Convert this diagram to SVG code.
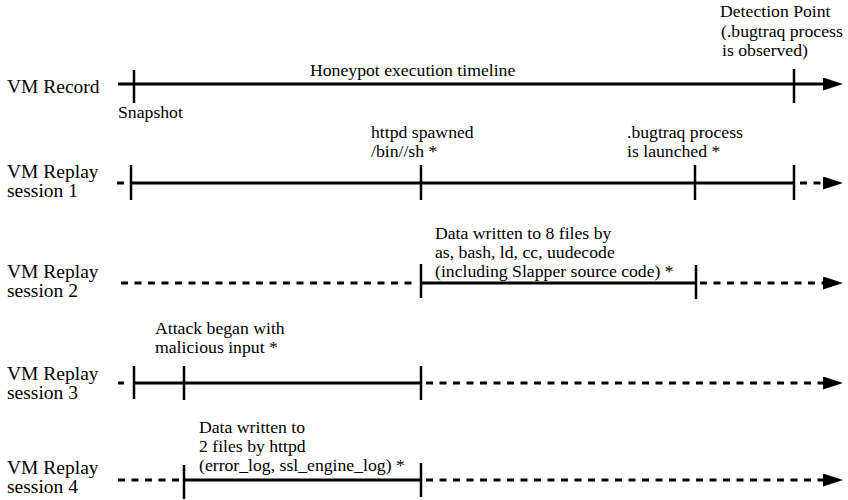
<svg xmlns="http://www.w3.org/2000/svg" width="848" height="500" viewBox="0 0 848 500">
  <style>
    text { font-family: "Liberation Serif", "Times New Roman", serif; fill: #000; }
    .lbl { font-size: 19.5px; }
    .ann { font-size: 17.7px; }
    .solid { stroke: #000; stroke-width: 3; fill: none; }
    .dash { stroke: #000; stroke-width: 3; fill: none; stroke-dasharray: 7 6.5; }
    .tick { stroke: #000; stroke-width: 2.5; }
  </style>
  <defs>
    <marker id="arrow" markerUnits="userSpaceOnUse" markerWidth="20" markerHeight="13" refX="0" refY="6.5" orient="auto">
      <path d="M0,0 L20,6.5 L0,13 z" fill="#000"/>
    </marker>
  </defs>
  <rect width="848" height="500" fill="#fff"/>

  <g id="vm-record">
    <text class="lbl" x="7" y="93">VM Record</text>
    <text class="ann" x="310" y="76">Honeypot execution timeline</text>
    <text class="ann" x="118" y="118">Snapshot</text>
    <text class="ann" x="720" y="17">Detection Point</text>
    <text class="ann" x="721" y="37">(.bugtraq process</text>
    <text class="ann" x="722" y="56">is observed)</text>
  </g>

  <g id="vm-replay-1">
    <text class="lbl" x="7" y="178">VM Replay</text>
    <text class="lbl" x="7" y="197">session 1</text>
    <text class="ann" x="371" y="138">httpd spawned</text>
    <text class="ann" x="371" y="157">/bin//sh *</text>
    <text class="ann" x="627" y="138">.bugtraq process</text>
    <text class="ann" x="627" y="157">is launched *</text>
  </g>

  <g id="vm-replay-2">
    <text class="lbl" x="7" y="278">VM Replay</text>
    <text class="lbl" x="7" y="297">session 2</text>
    <text class="ann" x="435" y="239">Data written to 8 files by</text>
    <text class="ann" x="435" y="258">as, bash, ld, cc, uudecode</text>
    <text class="ann" x="435" y="277">(including Slapper source code) *</text>
  </g>

  <g id="vm-replay-3">
    <text class="lbl" x="7" y="380">VM Replay</text>
    <text class="lbl" x="7" y="399">session 3</text>
    <text class="ann" x="155" y="334">Attack began with</text>
    <text class="ann" x="155" y="353">malicious input *</text>
  </g>

  <g id="vm-replay-4">
    <text class="lbl" x="7" y="474">VM Replay</text>
    <text class="lbl" x="7" y="493">session 4</text>
    <text class="ann" x="199" y="433">Data written to</text>
    <text class="ann" x="199" y="452">2 files by httpd</text>
    <text class="ann" x="199" y="471">(error_log,  ssl_engine_log) *</text>
  </g>

  <g id="connectors">
    <!-- VM Record -->
    <line class="solid" x1="118" y1="84" x2="823" y2="84" marker-end="url(#arrow)"/>
    <line class="tick" x1="134" y1="70" x2="134" y2="103"/>
    <line class="tick" x1="794" y1="69" x2="794" y2="103"/>

    <!-- Session 1 -->
    <line class="solid" x1="117" y1="183" x2="124" y2="183"/>
    <line class="solid" x1="131" y1="183" x2="794" y2="183"/>
    <line class="dash" x1="800" y1="183" x2="823" y2="183" marker-end="url(#arrow)"/>
    <line class="tick" x1="131" y1="165" x2="131" y2="200"/>
    <line class="tick" x1="421" y1="165" x2="421" y2="200"/>
    <line class="tick" x1="695" y1="165" x2="695" y2="200"/>
    <line class="tick" x1="794" y1="165" x2="794" y2="200"/>

    <!-- Session 2 -->
    <line class="dash" x1="121" y1="283" x2="418" y2="283"/>
    <line class="solid" x1="421" y1="283" x2="696" y2="283"/>
    <line class="dash" x1="700" y1="283" x2="823" y2="283" marker-end="url(#arrow)"/>
    <line class="tick" x1="421" y1="264" x2="421" y2="298"/>
    <line class="tick" x1="696" y1="265" x2="696" y2="299"/>

    <!-- Session 3 -->
    <line class="solid" x1="118" y1="383" x2="124" y2="383"/>
    <line class="solid" x1="134" y1="383" x2="421" y2="383"/>
    <line class="dash" x1="426" y1="383" x2="823" y2="383" marker-end="url(#arrow)"/>
    <line class="tick" x1="134" y1="366" x2="134" y2="399"/>
    <line class="tick" x1="184" y1="366" x2="184" y2="400"/>
    <line class="tick" x1="421" y1="366" x2="421" y2="400"/>

    <!-- Session 4 -->
    <line class="dash" x1="118" y1="480" x2="180" y2="480"/>
    <line class="solid" x1="184" y1="480" x2="421" y2="480"/>
    <line class="dash" x1="426" y1="480" x2="823" y2="480" marker-end="url(#arrow)"/>
    <line class="tick" x1="184" y1="465" x2="184" y2="499"/>
    <line class="tick" x1="421" y1="463" x2="421" y2="497"/>
  </g>
</svg>
